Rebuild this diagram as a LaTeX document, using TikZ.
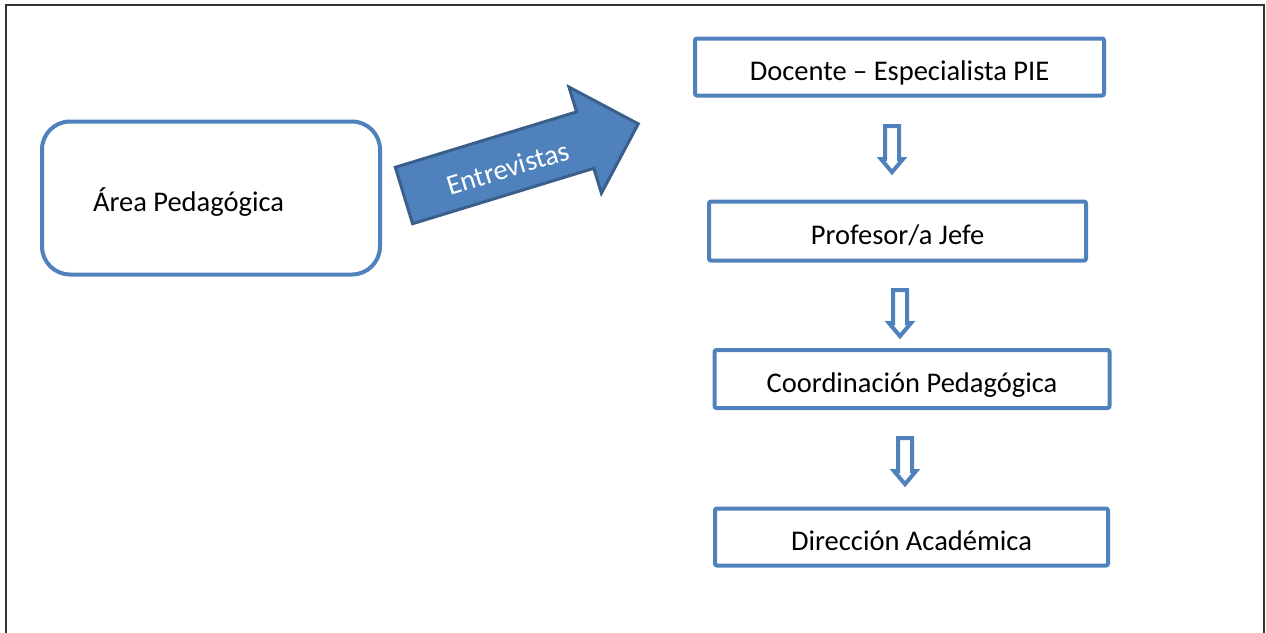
\documentclass[tikz,border=0pt]{standalone}
\usepackage{fontspec}
\setmainfont{Carlito}
\usetikzlibrary{shapes.arrows}
\definecolor{azul}{HTML}{4F81BD}
\definecolor{azuloscuro}{HTML}{3A5F8B}
\tikzset{
  caja/.style={draw=azul, line width=4pt, rounded corners=2pt, inner sep=0pt,
    text height=26pt, text depth=0pt, font=\fontsize{28.5}{34}\selectfont},
  flechita/.style={single arrow, draw=azul, fill=white, line width=4pt, rotate=-90,
    minimum height=46pt, minimum width=18pt, single arrow head extend=4pt,
    single arrow tip angle=80, inner xsep=0pt, inner ysep=5pt},
}
\begin{document}
\begin{tikzpicture}[x=1pt,y=-1pt]
    \useasboundingbox (0,0) rectangle (1266,632);

    % Marco
    \draw[line width=1.5pt, black!80] (6,633) -- (6,5) -- (1264,5) -- (1264,633);

    % Area
    \node[caja, rounded corners=28pt, minimum width=338pt, minimum height=153pt,
      text width=236pt, align=flush left] (area) at (211,198) {Área Pedagógica};

    % Flecha grande
    \node[single arrow, fill=azul, draw=azuloscuro, line width=3pt, rotate=17,
      minimum height=245pt, minimum width=108pt, single arrow head extend=26pt,
      single arrow tip angle=90, inner xsep=0pt, inner ysep=28pt] (entrevistas) at (507,164) {};
    \node[rotate=17, text=white, font=\fontsize{28.5}{34}\selectfont] (entrevistastxt) at (508,168) {Entrevistas};

    % Cadena
    \node[caja, minimum width=409pt, minimum height=57pt] (docente) at (899.5,67) {Docente – Especialista PIE};
    \node[caja, minimum width=377pt, minimum height=59pt] (profesor) at (897.5,231) {Profesor/a Jefe};
    \node[caja, minimum width=395pt, minimum height=58pt] (coordinacion) at (912,379) {Coordinación Pedagógica};
    \node[caja, minimum width=393pt, minimum height=57pt] (direccion) at (911.5,537) {Dirección Académica};

    % Flechas chicas
    \node[flechita] (f1) at (892,145) {};
    \node[flechita] (f2) at (900,309) {};
    \node[flechita] (f3) at (905,457) {};

\end{tikzpicture}
\end{document}
